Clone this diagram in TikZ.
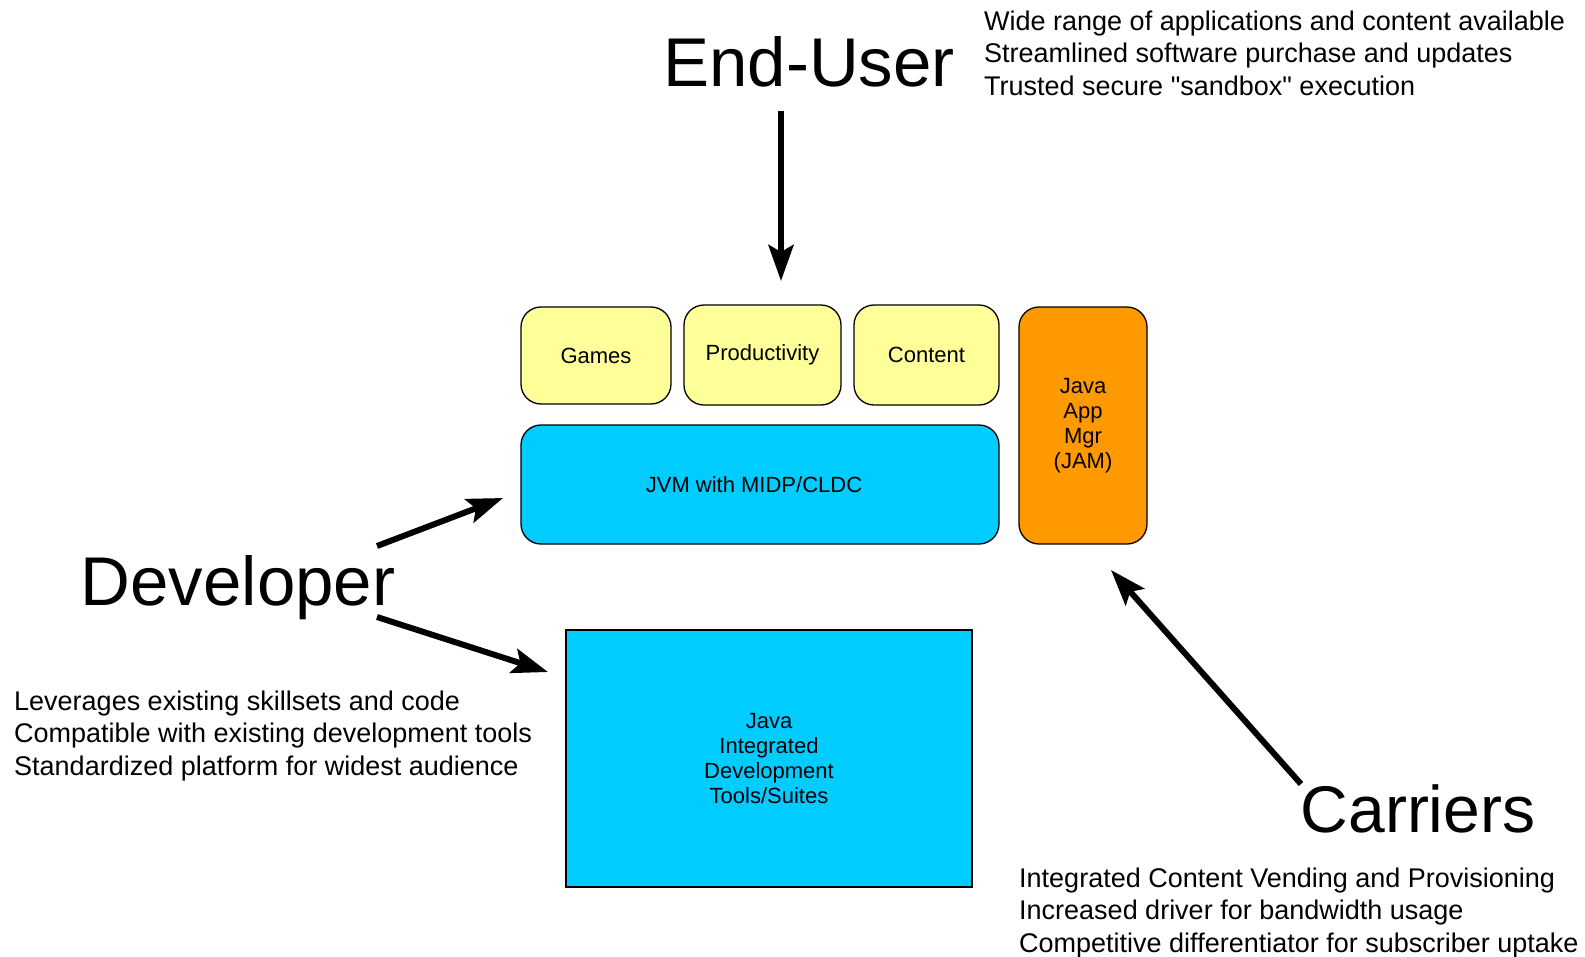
\documentclass[tikz,border=0pt]{standalone}
\usepackage{fontspec}
\setmainfont{Liberation Sans}
\newfontfamily\plainsans{Liberation Sans}
\usetikzlibrary{arrows.meta}
\definecolor{appyellow}{HTML}{FFFF99}
\definecolor{jvmcyan}{HTML}{00CCFF}
\definecolor{jamorange}{HTML}{FF9900}
\tikzset{
  appbox/.style={draw=black, line width=1.3pt, rounded corners=20pt, fill=appyellow, inner sep=0pt, font=\fontsize{22}{25}\selectfont, align=center},
  jvmbox/.style={appbox, fill=jvmcyan},
  jambox/.style={appbox, fill=jamorange},
  idebox/.style={draw=black, line width=1.3pt, fill=jvmcyan, inner sep=0pt, font=\fontsize{22}{25.3}\selectfont, align=center},
  biglabel/.style={inner sep=0pt, anchor=base, font=\fontsize{69}{69}\selectfont},
  notes/.style={inner sep=0pt, anchor=north west, align=left, font=\plainsans\fontsize{27}{32.2}\selectfont},
  bigarrow/.style={line width=6pt, -{Stealth[length=36pt, width=25pt, inset=7pt]}},
}
\begin{document}
\begin{tikzpicture}[x=1pt, y=-1pt]
\useasboundingbox (0,0) rectangle (1585,956);
% boxes
\node[appbox, minimum width=150pt, minimum height=97pt] (games) at (596,355.5) {Games};
\node[appbox, minimum width=157pt, minimum height=100pt] (prod) at (762.5,355) {Productivity};
\node[appbox, minimum width=145pt, minimum height=100pt] (content) at (926.5,355) {Content};
\node[jambox, minimum width=128pt, minimum height=237pt] (jam) at (1083,425.5) {Java\\App\\Mgr\\(JAM)};
\node[jvmbox, minimum width=478pt, minimum height=119pt] (jvm) at (760,484.5) {\hspace*{-12pt}JVM with MIDP/CLDC};
\node[idebox, minimum width=406pt, minimum height=257pt] (ide) at (769,758.5) {Java\\Integrated\\Development\\Tools/Suites};
% labels
\node[biglabel] (enduser) at (809,86) {End-User};
\node[biglabel] (developer) at (238,605) {Developer};
\node[biglabel, font=\fontsize{66}{66}\selectfont] (carriers) at (1418,832) {Carriers};
% notes
\node[notes] (eunotes) at (984,11) {Wide range of applications and content available\\Streamlined software purchase and updates\\Trusted secure "sandbox" execution};
\node[notes] (devnotes) at (14,691) {Leverages existing skillsets and code\\Compatible with existing development tools\\Standardized platform for widest audience};
\node[notes] (carnotes) at (1019,868) {Integrated Content Vending and Provisioning\\Increased driver for bandwidth usage\\Competitive differentiator for subscriber uptake};
% arrow endpoints
\coordinate (euS) at (781,111);
\coordinate (euT) at (781,281);
\coordinate (devS1) at (377,546);
\coordinate (devT1) at (503,498);
\coordinate (devS2) at (377,617);
\coordinate (devT2) at (548,672);
\coordinate (carS) at (1301,784);
\coordinate (carT) at (1111,570);
\draw[bigarrow] (euS) -- (euT);
\draw[bigarrow] (devS1) -- (devT1);
\draw[bigarrow] (devS2) -- (devT2);
\draw[bigarrow] (carS) -- (carT);
\end{tikzpicture}
\end{document}
